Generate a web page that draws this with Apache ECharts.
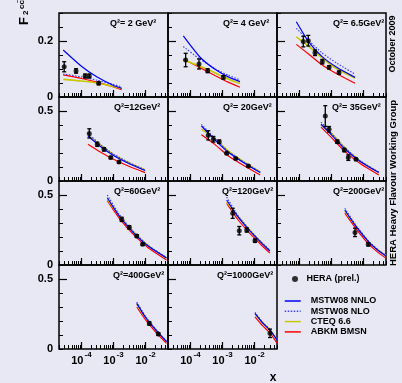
<!DOCTYPE html>
<html><head><meta charset="utf-8">
<script src="https://cdn.jsdelivr.net/npm/echarts@6/dist/echarts.min.js"></script>
<style>html,body{margin:0;padding:0;background:#e8e8f4;}#c{width:402px;height:383px;}</style>
</head><body><div id="c"></div>
<script>
// ---------- data ----------
const q2Labels = ['Q\u00b2= 2 GeV\u00b2', 'Q\u00b2= 4 GeV\u00b2', 'Q\u00b2= 6.5GeV\u00b2',
  'Q\u00b2=12GeV\u00b2', 'Q\u00b2= 20GeV\u00b2', 'Q\u00b2= 35GeV\u00b2',
  'Q\u00b2=60GeV\u00b2', 'Q\u00b2=120GeV\u00b2', 'Q\u00b2=200GeV\u00b2',
  'Q\u00b2=400GeV\u00b2', 'Q\u00b2=1000GeV\u00b2'];
const seriesNames = ['MSTW08 NNLO', 'MSTW08 NLO', 'CTEQ 6.6', 'ABKM BMSN'];
const dataName = 'HERA (prel.)';

// x points at which the theory curves are read, per panel
const curveX = [
  [2.7e-5, 1e-4, 3e-4, 1e-3, 1.8e-3],
  [6e-5, 2e-4, 6e-4, 1.5e-3, 3.5e-3],
  [8e-5, 2e-4, 5e-4, 1.5e-3, 5.4e-3],
  [1.6e-4, 4e-4, 1e-3, 3e-3, 9.6e-3],
  [2.2e-4, 6e-4, 1.5e-3, 5e-3, 1.5e-2],
  [4.7e-4, 1e-3, 2.5e-3, 8e-3, 3e-2],
  [6.4e-4, 1.5e-3, 4e-3, 1.2e-2, 4.5e-2],
  [1.35e-3, 3e-3, 7e-3, 1.6e-2, 3e-2],
  [2.6e-3, 6e-3, 1.5e-2, 3e-2, 5e-2],
  [5.3e-3, 1e-2, 2e-2, 4.5e-2],
  [1.03e-2, 1.8e-2, 3e-2, 5e-2]
];
const mstwNNLO = [
  [0.168, 0.110, 0.072, 0.041, 0.031],
  [0.218, 0.142, 0.098, 0.072, 0.055],
  [0.269, 0.195, 0.145, 0.105, 0.070],
  [0.321, 0.245, 0.182, 0.125, 0.075],
  [0.393, 0.290, 0.205, 0.125, 0.060],
  [0.405, 0.330, 0.232, 0.138, 0.060],
  [0.480, 0.350, 0.235, 0.135, 0.050],
  [0.464, 0.345, 0.245, 0.160, 0.100],
  [0.393, 0.270, 0.160, 0.100, 0.065],
  [0.326, 0.225, 0.140, 0.052],
  [0.255, 0.185, 0.135, 0.065]
];
const mstwNLO = [
  [0.082, 0.072, 0.060, 0.045, 0.036],
  [0.180, 0.135, 0.100, 0.078, 0.061],
  [0.245, 0.200, 0.158, 0.120, 0.082],
  [0.340, 0.258, 0.192, 0.132, 0.080],
  [0.405, 0.300, 0.213, 0.130, 0.065],
  [0.420, 0.340, 0.240, 0.143, 0.063],
  [0.500, 0.362, 0.243, 0.140, 0.053],
  [0.485, 0.355, 0.252, 0.165, 0.105],
  [0.405, 0.278, 0.165, 0.104, 0.068],
  [0.335, 0.232, 0.145, 0.055],
  [0.262, 0.190, 0.139, 0.068]
];
const cteq66 = [
  [0.063, 0.057, 0.050, 0.038, 0.031],
  [0.132, 0.110, 0.086, 0.064, 0.048],
  [0.215, 0.180, 0.140, 0.100, 0.068],
  [0.330, 0.255, 0.190, 0.130, 0.078],
  [0.370, 0.300, 0.215, 0.132, 0.063],
  [0.400, 0.340, 0.242, 0.142, 0.060],
  [0.470, 0.355, 0.242, 0.138, 0.050],
  [0.450, 0.350, 0.250, 0.163, 0.102],
  [0.385, 0.275, 0.163, 0.102, 0.066],
  [0.320, 0.228, 0.143, 0.053],
  [0.250, 0.187, 0.137, 0.066]
];
const abkmBMSN = [
  [0.079, 0.066, 0.053, 0.036, 0.026],
  [0.135, 0.105, 0.076, 0.053, 0.035],
  [0.188, 0.152, 0.115, 0.082, 0.049],
  [0.262, 0.205, 0.155, 0.105, 0.060],
  [0.330, 0.258, 0.180, 0.105, 0.043],
  [0.385, 0.310, 0.215, 0.123, 0.043],
  [0.460, 0.335, 0.222, 0.123, 0.036],
  [0.440, 0.325, 0.228, 0.145, 0.085],
  [0.370, 0.255, 0.145, 0.085, 0.050],
  [0.300, 0.208, 0.125, 0.040],
  [0.230, 0.165, 0.115, 0.042]
];
// HERA preliminary points
const heraX = [
  [2.9e-5, 6.8e-5, 1.3e-4, 1.76e-4, 3.45e-4],
  [7.1e-5, 1.85e-4, 3.45e-4, 1.06e-3],
  [1.32e-4, 1.89e-4, 3.06e-4, 5.17e-4, 8.4e-4, 1.71e-3],
  [1.76e-4, 3.12e-4, 5.06e-4, 8.2e-4, 1.48e-3],
  [3.6e-4, 5.2e-4, 7.9e-4, 1.35e-3, 2.58e-3, 6.4e-3],
  [6.4e-4, 8.4e-4, 1.52e-3, 2.5e-3, 3.34e-3, 5.8e-3],
  [1.8e-3, 3.1e-3, 5.3e-3, 8.1e-3],
  [2.08e-3, 3.33e-3, 5.7e-3, 1.03e-2],
  [5.4e-3, 1.4e-2],
  [1.31e-2, 2.49e-2],
  [3.03e-2]
];
const heraY = [
  [0.108, 0.093, 0.075, 0.075, 0.049],
  [0.132, 0.118, 0.094, 0.070],
  [0.198, 0.201, 0.158, 0.126, 0.106, 0.087],
  [0.340, 0.262, 0.226, 0.167, 0.136],
  [0.326, 0.298, 0.281, 0.198, 0.160, 0.107],
  [0.464, 0.369, 0.281, 0.221, 0.167, 0.155],
  [0.326, 0.269, 0.207, 0.148],
  [0.369, 0.245, 0.250, 0.174],
  [0.233, 0.148],
  [0.183, 0.107],
  [0.112]
];
const heraErr = [
  [0.018, 0.008, 0.007, 0.007, 0.005],
  [0.024, 0.018, 0.007, 0.006],
  [0.019, 0.019, 0.010, 0.008, 0.006, 0.006],
  [0.033, 0.015, 0.012, 0.008, 0.008],
  [0.033, 0.020, 0.012, 0.008, 0.007, 0.007],
  [0.074, 0.020, 0.012, 0.012, 0.020, 0.008],
  [0.015, 0.012, 0.010, 0.008],
  [0.036, 0.030, 0.015, 0.012],
  [0.030, 0.012],
  [0.012, 0.010],
  [0.030]
];
// axis ticks
const xRange = [2e-5, 0.05];
const xMajorTicks = [1e-4, 1e-3, 1e-2];
const xMinorTicks = [2e-5,3e-5,4e-5,5e-5,6e-5,7e-5,8e-5,9e-5,
  2e-4,3e-4,4e-4,5e-4,6e-4,7e-4,8e-4,9e-4,
  2e-3,3e-3,4e-3,5e-3,6e-3,7e-3,8e-3,9e-3,
  2e-2,3e-2,4e-2,5e-2];
const yMaxTop = 0.3, yMaxOther = 0.6;
const yLabelsTop = [0, 0.2], yLabelsOther = [0, 0.5];

// ---------- layout ----------
const FONT = '"Liberation Sans", Arial, Helvetica, sans-serif';
const colLeft = [59, 168, 277], rowTop = [13, 97, 181, 265], PW = 109, PH = 84;
const qLabelDx = [51, 55, 56, 55, 55, 55, 55, 54, 56, 54, 49];
const colors = { nnlo: '#0000ff', nlo: '#4040ff', cteq: '#c8c800', abkm: '#ff0000' };

const grids = [], xAxes = [], yAxes = [], series = [], graphics = [];
for (let p = 0; p < q2Labels.length; p++) {
  const r = Math.floor(p / 3), c = p % 3;
  grids.push({ left: colLeft[c], top: rowTop[r], width: PW, height: PH, show: true,
    borderColor: '#000', borderWidth: 1.5, backgroundColor: 'transparent', outerBoundsMode: 'none' });
  const yMax = r === 0 ? yMaxTop : yMaxOther;
  const yInt = r === 0 ? 0.05 : 0.1;
  const yLab = r === 0 ? yLabelsTop : yLabelsOther;
  xAxes.push({ type: 'log', gridIndex: p, min: xRange[0], max: xRange[1], position: 'bottom',
    axisLine: { show: false, onZero: false }, splitLine: { show: false },
    axisTick: { show: true, inside: true, length: 4, lineStyle: { color: '#000', width: 1 }, customValues: xMinorTicks },
    axisLabel: { show: false } });
  xAxes.push({ type: 'log', gridIndex: p, min: xRange[0], max: xRange[1], position: 'bottom',
    axisLine: { show: false, onZero: false }, splitLine: { show: false },
    axisTick: { show: true, inside: true, length: 7, lineStyle: { color: '#000', width: 1.2 }, customValues: xMajorTicks },
    axisLabel: { show: r === 3, customValues: xMajorTicks, margin: 2,
      formatter: v => '{b|10}{e|' + Math.round(Math.log10(v)) + '}',
      rich: { b: { fontSize: 11, fontWeight: 'bold', color: '#000', fontFamily: FONT },
              e: { fontSize: 8, fontWeight: 'bold', color: '#000', fontFamily: FONT, padding: [0, 0, 12, 1] } } } });
  yAxes.push({ type: 'value', gridIndex: p, min: 0, max: yMax, interval: yInt, position: 'left',
    axisLine: { show: false, onZero: false }, splitLine: { show: false },
    axisTick: { show: true, inside: true, length: 4, lineStyle: { color: '#000', width: 1 } },
    axisLabel: { show: c === 0, customValues: yLab, margin: 6, fontSize: 11, fontWeight: 'bold', color: '#000', fontFamily: FONT,
      formatter: v => (v === 0 ? '0' : String(v)) } });
  yAxes.push({ type: 'value', gridIndex: p, min: 0, max: yMax, position: 'left',
    axisLine: { show: false, onZero: false }, splitLine: { show: false },
    axisTick: { show: true, inside: true, length: 8, lineStyle: { color: '#000', width: 1.2 }, customValues: [yLab[1]] },
    axisLabel: { show: false } });

  const mk = (arr) => curveX[p].map((x, i) => [x, arr[p][i]]);
  const base = { type: 'line', xAxisIndex: 2 * p, yAxisIndex: 2 * p, symbol: 'none', smooth: 0.2,
    silent: true, animation: false };
  series.push(Object.assign({}, base, { name: 'ABKM BMSN', data: mk(abkmBMSN), z: 2,
    lineStyle: { color: colors.abkm, width: 1.2 }, itemStyle: { color: colors.abkm } }));
  series.push(Object.assign({}, base, { name: 'CTEQ 6.6', data: mk(cteq66), z: 3,
    lineStyle: { color: colors.cteq, width: 1.6 }, itemStyle: { color: colors.cteq } }));
  series.push(Object.assign({}, base, { name: 'MSTW08 NLO', data: mk(mstwNLO), z: 4,
    lineStyle: { color: colors.nlo, width: 1.2, type: [1.5, 1.5] }, itemStyle: { color: colors.nlo } }));
  series.push(Object.assign({}, base, { name: 'MSTW08 NNLO', data: mk(mstwNNLO), z: 5,
    lineStyle: { color: colors.nnlo, width: 1.2 }, itemStyle: { color: colors.nnlo } }));
  series.push({ type: 'custom', xAxisIndex: 2 * p, yAxisIndex: 2 * p, z: 9, silent: true, animation: false,
    data: heraX[p].map((x, i) => [x, heraY[p][i], heraErr[p][i]]),
    encode: { x: 0, y: 1 },
    renderItem: function (params, api) {
      const x = api.value(0), y = api.value(1), e = api.value(2);
      const top = api.coord([x, y + e]), bot = api.coord([x, Math.max(y - e, 0)]);
      const st = { stroke: '#000', lineWidth: 1.3 };
      return { type: 'group', children: [
        { type: 'line', shape: { x1: top[0], y1: top[1], x2: bot[0], y2: bot[1] }, style: st },
        { type: 'line', shape: { x1: top[0] - 2, y1: top[1], x2: top[0] + 2, y2: top[1] }, style: st },
        { type: 'line', shape: { x1: bot[0] - 2, y1: bot[1], x2: bot[0] + 2, y2: bot[1] }, style: st }
      ] };
    } });
  series.push({ type: 'scatter', name: dataName, xAxisIndex: 2 * p, yAxisIndex: 2 * p, z: 10, silent: true,
    animation: false, symbol: 'circle', symbolSize: 5, itemStyle: { color: '#000' },
    data: heraX[p].map((x, i) => [x, heraY[p][i]]) });

  graphics.push({ type: 'text', x: colLeft[c] + qLabelDx[p], y: rowTop[r] + 11,
    style: { text: q2Labels[p], fill: '#000', fontSize: 9, fontWeight: 'bold', fontFamily: FONT,
      align: 'left', verticalAlign: 'middle' } });
}

// side/axis titles
graphics.push({ type: 'text', x: 393, y: 44, rotation: Math.PI / 2,
  style: { text: 'October 2009', fill: '#000', fontSize: 9, fontWeight: 'bold', fontFamily: FONT, align: 'center', verticalAlign: 'middle' } });
graphics.push({ type: 'text', x: 393, y: 183, rotation: Math.PI / 2,
  style: { text: 'HERA Heavy Flavour Working Group', fill: '#000', fontSize: 9.5, fontWeight: 'bold', fontFamily: FONT, align: 'center', verticalAlign: 'middle' } });
graphics.push({ type: 'text', x: 273, y: 378,
  style: { text: 'x', fill: '#000', fontSize: 12, fontWeight: 'bold', fontFamily: FONT, align: 'center', verticalAlign: 'middle' } });
graphics.push({ type: 'group', x: 24, y: 25, rotation: Math.PI / 2, children: [
  { type: 'text', x: 0, y: 0, style: { text: 'F', fill: '#000', fontSize: 13, fontWeight: 'bold', fontFamily: FONT, align: 'left', verticalAlign: 'middle' } },
  { type: 'text', x: 10, y: 2, style: { text: '2', fill: '#000', fontSize: 8, fontWeight: 'bold', fontFamily: FONT, align: 'left', verticalAlign: 'middle' } },
  { type: 'text', x: 16, y: -2, style: { text: 'c\u0063\u0304', fill: '#000', fontSize: 8, fontWeight: 'bold', fontFamily: FONT, align: 'left', verticalAlign: 'middle' } }
] });

const chart = echarts.init(document.getElementById('c'), null, { renderer: 'canvas' });
chart.setOption({
  backgroundColor: '#e8e8f4',
  animation: false,
  textStyle: { fontFamily: FONT },
  grid: grids,
  xAxis: xAxes,
  yAxis: yAxes,
  legend: [
    { data: [{ name: dataName, icon: 'circle' }], left: 292, top: 274, padding: 0, itemWidth: 13, itemHeight: 6,
      selectedMode: false, textStyle: { fontSize: 9, fontWeight: 'bold', color: '#000', fontFamily: FONT, lineHeight: 10 } },
    { data: seriesNames, orient: 'vertical', left: 284, top: 296, padding: 0, itemWidth: 16, itemHeight: 10, itemGap: 0.3,
      selectedMode: false, itemStyle: { opacity: 0 }, lineStyle: { width: 1.5 },
      textStyle: { fontSize: 9, fontWeight: 'bold', color: '#000', fontFamily: FONT, lineHeight: 10, padding: [0, 0, 0, 5] } }
  ],
  series: series,
  graphic: graphics
});
</script></body></html>
